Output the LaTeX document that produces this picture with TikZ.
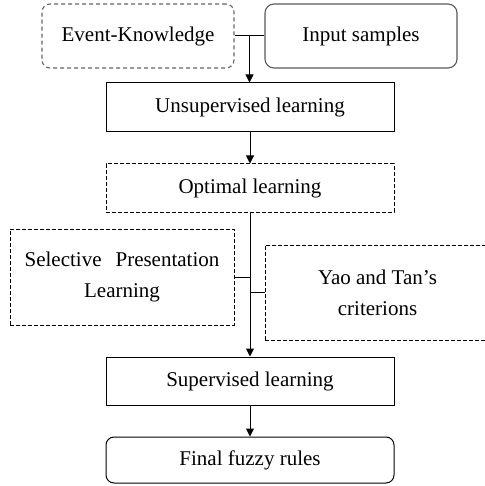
\documentclass[tikz,border=0pt]{standalone}
\usepackage{fontspec}
\setmainfont{Liberation Serif}
\usetikzlibrary{arrows.meta,calc}
\begin{document}
\begin{tikzpicture}[x=1pt,y=-1pt,
  txt/.style={font=\fontsize{21}{31}\selectfont, inner sep=0pt, align=center},
  box/.style={txt, draw, line width=1pt, minimum width=288, minimum height=49},
  dashbox/.style={box, dash pattern=on 4pt off 2pt},
  link/.style={line width=1pt},
  flow/.style={link, -{Triangle[length=8pt,width=8pt]}}]
\useasboundingbox (0,0) rectangle (484,486);

% input stage
\node[txt, draw=black!60, line width=1.1pt, dash pattern=on 4pt off 3pt,
      rounded corners=8pt, minimum width=192, minimum height=64] (ek) at (138,36) {Event-Knowledge};
\node[txt, draw=black!65, line width=1.1pt, rounded corners=9pt,
      minimum width=192, minimum height=64] (ins) at (361,36) {Input samples};

% main chain
\node[box] (uns) at (250,107.5) {Unsupervised learning};
\node[dashbox, minimum height=48] (opt) at (250,188) {Optimal learning};
\node[dashbox, minimum width=224, minimum height=96] (sel) at (122,277)
  {Selective\hspace{14pt}Presentation\\Learning};
\node[dashbox, minimum width=225, minimum height=95] (yao) at (377.5,292.5)
  {Yao and Tan's\\criterions};
\node[box, minimum height=48] (sup) at (250,381) {Supervised learning};
\node[box, minimum height=46, rounded corners=8pt] (fin) at (250,460) {Final fuzzy rules};

% connectors
\coordinate (j1) at ($(ek.east)!0.5!(ins.west)$);
\draw[link] (ek.east) -- (ins.west);
\draw[flow] (j1) -- (j1 |- uns.north);
\draw[flow] (uns.south) -- (opt.north);
\draw[flow] (opt.south) -- (sup.north);
\draw[link] (sel.east) -- (sel.east -| opt.south);
\draw[link] (yao.west) -- (yao.west -| opt.south);
\draw[flow] (sup.south) -- (fin.north);
\end{tikzpicture}
\end{document}
